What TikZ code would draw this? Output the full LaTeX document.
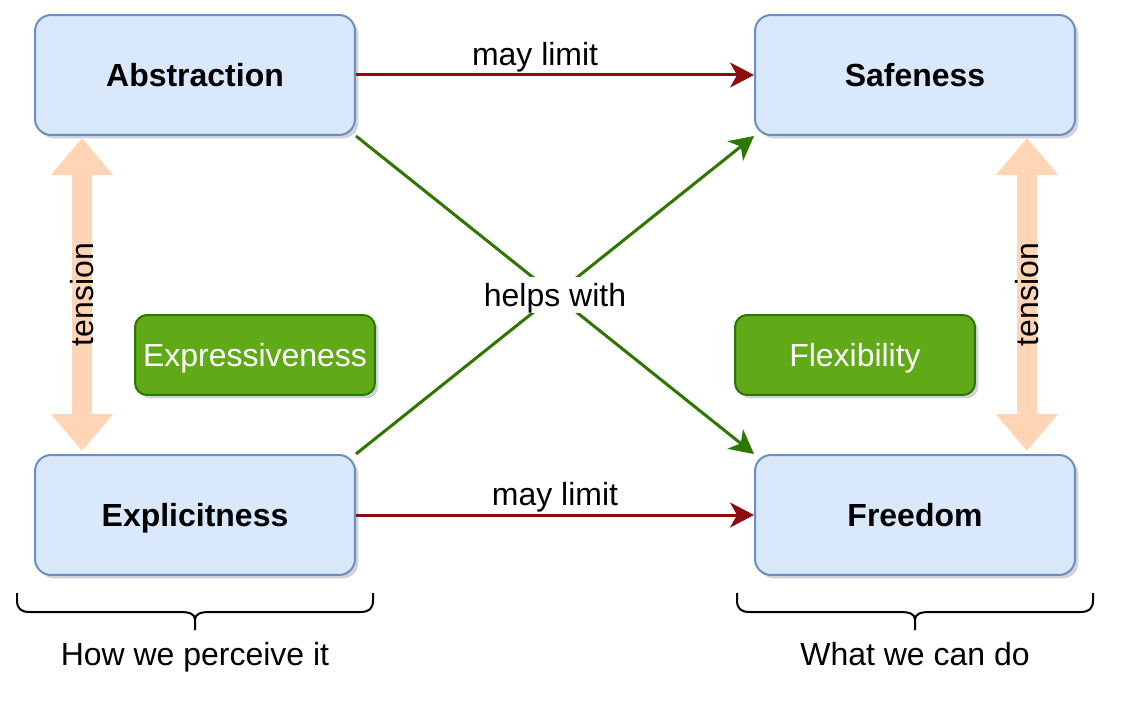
\documentclass[tikz,border=0pt]{standalone}
\usepackage{fontspec}
\setmainfont{Liberation Sans}
\usetikzlibrary{arrows.meta,shadows,calc}
\definecolor{bluefill}{HTML}{DAE8FC}
\definecolor{bluedraw}{HTML}{6C8EBF}
\definecolor{greenfill}{HTML}{60A917}
\definecolor{greendraw}{HTML}{2D7600}
\definecolor{limitred}{HTML}{8B0D0D}
\definecolor{peach}{HTML}{FFD5B5}
\begin{document}
\begin{tikzpicture}[x=0.02cm,y=-0.02cm,
  font=\fontsize{18.2}{22}\selectfont,
  captext/.style={text height=0.46cm, text depth=0pt},
  boxshadow/.style={drop shadow={shadow xshift=0.07cm, shadow yshift=-0.07cm, opacity=0.25, fill=bluedraw!60!black}},
  concept/.style={draw=bluedraw, fill=bluefill, rounded corners=0.32cm, minimum width=6.4cm, minimum height=2.4cm, line width=0.04cm, font=\fontsize{18.2}{22}\selectfont\bfseries, captext, boxshadow},
  quality/.style={draw=greendraw, fill=greenfill, rounded corners=0.24cm, minimum width=4.8cm, minimum height=1.6cm, text=white, line width=0.04cm, captext, boxshadow},
  limit/.style={draw=limitred, line width=0.06cm, -{Stealth[length=0.48cm,width=0.5cm,inset=0.14cm]}},
  helps/.style={draw=greendraw, line width=0.06cm, -{Stealth[length=0.48cm,width=0.5cm,inset=0.14cm]}},
  tensionarrow/.style={draw=peach, line width=0.4cm, {Triangle[length=0.74cm,width=1.2cm]}-{Triangle[length=0.74cm,width=1.2cm]}},
  edgelabel/.style={inner sep=1pt},
  brace/.style={draw=black, line width=0.04cm},
]
\useasboundingbox (0,0) rectangle (1146,726);

\node[concept] (abs)  at (195,75)  {Abstraction};
\node[concept] (safe) at (915,75)  {Safeness};
\node[concept] (expl) at (195,515) {Explicitness};
\node[concept] (free) at (915,515) {Freedom};
\node[quality] (expr) at (255,355) {Expressiveness};
\node[quality] (flex) at (855,355) {Flexibility};

\draw[limit] (abs) -- (safe) node[pos=0.45, above, edgelabel] {may limit};
\draw[limit] (expl) -- (free) node[pos=0.5, above, edgelabel] {may limit};

\draw[helps] (expl.north east) -- (safe.south west);
\draw[helps] (abs.south east) -- (free.north west)
  node[midway, fill=white, inner xsep=1pt, inner ysep=0pt, minimum height=0.72cm, captext] {helps with};

\draw[tensionarrow] ($(abs.south west)+(48,2)$) -- ($(expl.north west)+(48,-3)$)
  node[midway, rotate=90] {tension};
\draw[tensionarrow] ($(safe.south east)+(-49,2)$) -- ($(free.north east)+(-49,-3)$)
  node[midway, rotate=90] {tension};

\draw[brace] (17,593) -- (17,600) .. controls (17,609) and (21,612) .. (30,612) -- (180,612)
  .. controls (190,612) and (195,614) .. (195,620) -- (195,630);
\draw[brace] (195,620) .. controls (195,614) and (200,612) .. (210,612) -- (360,612)
  .. controls (369,612) and (373,609) .. (373,600) -- (373,593);
\draw[brace] (737,593) -- (737,600) .. controls (737,609) and (741,612) .. (750,612) -- (900,612)
  .. controls (910,612) and (915,614) .. (915,620) -- (915,630);
\draw[brace] (915,620) .. controls (915,614) and (920,612) .. (930,612) -- (1080,612)
  .. controls (1089,612) and (1093,609) .. (1093,600) -- (1093,593);

\node[anchor=base] (perceive) at (195,665) {How we perceive it};
\node[anchor=base] (cando) at (915,665) {What we can do};
\end{tikzpicture}
\end{document}
